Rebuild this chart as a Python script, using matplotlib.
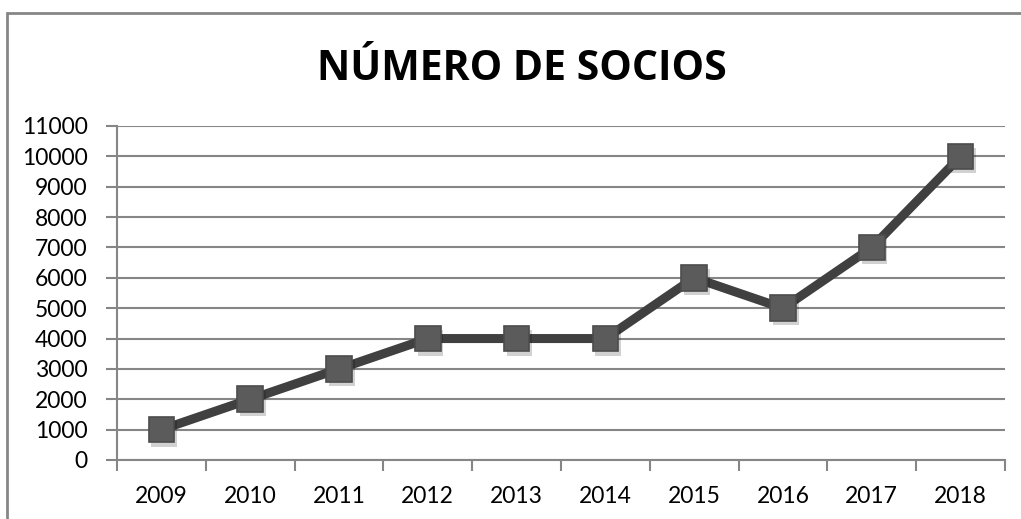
import numpy as np
import matplotlib.pyplot as plt
import matplotlib.patheffects as pe
from matplotlib.patches import Rectangle

# datos del gráfico
years = ['2009', '2010', '2011', '2012', '2013', '2014', '2015', '2016', '2017', '2018']
socios = [1000, 2000, 3000, 4000, 4000, 4000, 6000, 5000, 7000, 10000]

plt.rcParams['font.family'] = ['Lato', 'DejaVu Sans']

fig = plt.figure(figsize=(10.21, 5.19), dpi=100)
ax = fig.add_axes([117/1021, 1 - 460/519, 888/1021, 334/519])

gris = '#868686'
x = np.arange(len(years))

# línea y marcadores con sombra
ax.plot(x, socios, color='#404040', lw=6.5, solid_capstyle='butt', zorder=3)
ax.plot(x, socios, ls='none', marker='s', ms=18.5, mfc='#5b5b5b', mec='#4c4c4c', mew=1.2,
        zorder=4, path_effects=[pe.SimplePatchShadow(offset=(2, -3), shadow_rgbFace='#000000', alpha=0.18),
                                pe.Normal()])

ax.set_xlim(-0.5, len(years) - 0.5)
ax.set_ylim(0, 11000)
ax.set_yticks(np.arange(0, 11001, 1000))
ax.set_xticks(x)
ax.set_xticklabels(years)
ax.set_xticks(np.arange(-0.5, len(years)), minor=True)

ax.grid(axis='y', color=gris, lw=1.5)
ax.set_axisbelow(True)
for s in ['top', 'right']:
    ax.spines[s].set_visible(False)
for s in ['left', 'bottom']:
    ax.spines[s].set_color(gris)
    ax.spines[s].set_linewidth(1.5)

ax.tick_params(axis='y', length=8, width=1.5, color=gris, labelsize=16.5, pad=13)
ax.tick_params(axis='x', which='major', length=0, labelsize=16.5, pad=19)
ax.tick_params(axis='x', which='minor', length=8, width=1.5, color=gris)

fig.text(522/1021, 1 - 70/519, 'NÚMERO DE SOCIOS', ha='center', va='center',
         fontsize=29.5, fontweight='bold', family=['Open Sans', 'DejaVu Sans'])

# borde del gráfico
fig.patches.append(Rectangle((7/1021, -0.1), 1.2, 1.1 - 13/519, transform=fig.transFigure,
                             fill=False, edgecolor=gris, lw=2, clip_on=False))

fig.savefig('out.png', dpi=100)
